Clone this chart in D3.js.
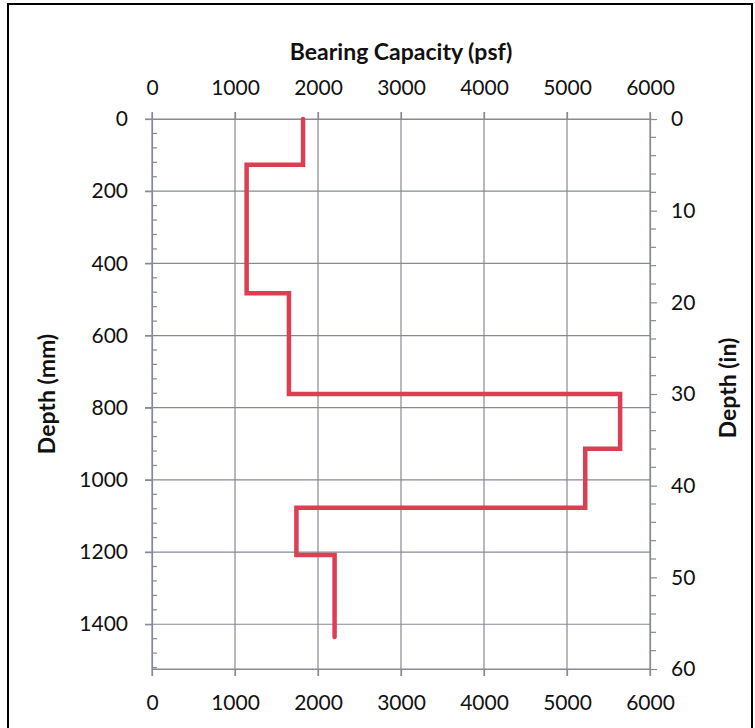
<!DOCTYPE html>
<html>
<head>
<meta charset="utf-8">
<script src="https://cdn.jsdelivr.net/npm/d3@7"></script>
<style>
  body { margin: 0; background: #fff; }
  svg text { font-family: Lato, "Open Sans", sans-serif; fill: #111; }
</style>
</head>
<body>
<svg id="chart" width="755" height="728"></svg>
<script>
// soil layers: top / bottom depth in mm and bearing capacity in psf
var layerTop = [0, 127, 483, 762, 914, 1077, 1208];
var layerBottom = [127, 483, 762, 914, 1077, 1208, 1435];
var capacityPsf = [1820, 1140, 1650, 5640, 5220, 1740, 2200];

var capTicks = [0, 1000, 2000, 3000, 4000, 5000, 6000];
var mmTicks = [0, 200, 400, 600, 800, 1000, 1200, 1400];
var inTicks = [0, 10, 20, 30, 40, 50, 60];

(function () {
    var svg = d3.select("#chart");
    var plotL = 152, plotR = 650, plotT = 119, plotB = 669;
    var gridColor = "#858a93";
    var fmt = d3.format("d");

    var x = d3.scaleLinear().domain([0, 6000]).range([plotL, plotR]);
    var yMm = d3.scaleLinear().domain([0, 1524]).range([plotT, plotB]);
    var yIn = d3.scaleLinear().domain([0, 60]).range([plotT, plotB]);

    // outer frame
    svg.append("rect")
        .attr("x", 8).attr("y", 4)
        .attr("width", 744).attr("height", 760)
        .attr("fill", "none")
        .attr("stroke", "#000")
        .attr("stroke-width", 2);

    // grid
    var grid = svg.append("g").attr("stroke", gridColor).attr("stroke-width", 1.2);
    grid.selectAll("line.v").data(capTicks).enter().append("line")
        .attr("x1", d => x(d)).attr("x2", d => x(d))
        .attr("y1", plotT - 7).attr("y2", plotB + 7);
    grid.selectAll("line.h").data(mmTicks).enter().append("line")
        .attr("x1", plotL - 7).attr("x2", plotR)
        .attr("y1", d => yMm(d)).attr("y2", d => yMm(d));
    grid.append("line")
        .attr("x1", plotL).attr("x2", plotR)
        .attr("y1", plotB).attr("y2", plotB);

    function styleAxis(g) {
        g.select(".domain").attr("stroke", gridColor).attr("stroke-width", 1.2);
        g.selectAll(".tick line").attr("stroke", gridColor).attr("stroke-width", 1.2);
        g.selectAll("text").attr("font-size", 21).attr("fill", "#111")
            .attr("font-family", "Lato, 'Open Sans', sans-serif");
    }

    svg.append("g")
        .attr("transform", "translate(0," + plotT + ")")
        .call(d3.axisTop(x).tickValues(capTicks).tickFormat(fmt).tickSize(7).tickPadding(17).tickSizeOuter(0))
        .call(styleAxis);

    svg.append("g")
        .attr("transform", "translate(0," + plotB + ")")
        .call(d3.axisBottom(x).tickValues(capTicks).tickFormat(fmt).tickSize(7).tickPadding(19).tickSizeOuter(0))
        .call(styleAxis);

    svg.append("g")
        .attr("transform", "translate(" + plotL + ",0)")
        .call(d3.axisLeft(yMm).tickValues(mmTicks).tickFormat(fmt).tickSize(7).tickPadding(17).tickSizeOuter(0))
        .call(styleAxis);

    svg.append("g")
        .attr("transform", "translate(" + plotR + ",0)")
        .call(d3.axisRight(yIn).tickValues(inTicks).tickFormat(fmt).tickSize(7).tickPadding(14).tickSizeOuter(0))
        .call(styleAxis);

    // minor ticks: every 40 mm inside the left axis, every 2 in outside the right axis
    svg.append("g").attr("stroke", gridColor).attr("stroke-width", 1.2)
        .selectAll("line").data(d3.range(40, 1524, 40).filter(d => d % 200 !== 0)).enter().append("line")
        .attr("x1", plotL).attr("x2", plotL + 5)
        .attr("y1", d => yMm(d)).attr("y2", d => yMm(d));
    svg.append("g").attr("stroke", gridColor).attr("stroke-width", 1.2)
        .selectAll("line").data(d3.range(2, 60, 2).filter(d => d % 10 !== 0)).enter().append("line")
        .attr("x1", plotR).attr("x2", plotR + 6)
        .attr("y1", d => yIn(d)).attr("y2", d => yIn(d));

    // bearing capacity profile
    var pts = [];
    capacityPsf.forEach(function (c, i) {
        pts.push([c, layerTop[i]]);
        pts.push([c, layerBottom[i]]);
    });
    var line = d3.line().x(d => x(d[0])).y(d => yMm(d[1]));
    svg.append("path")
        .datum(pts)
        .attr("d", line)
        .attr("fill", "none")
        .attr("stroke", "#de3e52")
        .attr("stroke-width", 4.5)
        .attr("stroke-linejoin", "miter")
        .attr("stroke-linecap", "round");

    // titles
    svg.append("text")
        .attr("x", (plotL + plotR) / 2).attr("y", 60)
        .attr("text-anchor", "middle")
        .attr("font-size", 23).attr("font-weight", "bold")
        .text("Bearing Capacity (psf)");

    svg.append("text")
        .attr("transform", "translate(46," + (plotT + plotB) / 2 + ") rotate(-90)")
        .attr("text-anchor", "middle").attr("dominant-baseline", "central")
        .attr("font-size", 23).attr("font-weight", "bold")
        .text("Depth (mm)");

    svg.append("text")
        .attr("transform", "translate(727," + ((plotT + plotB) / 2 - 6) + ") rotate(-90)")
        .attr("text-anchor", "middle").attr("dominant-baseline", "central")
        .attr("font-size", 23).attr("font-weight", "bold")
        .text("Depth (in)");
})();
</script>
</body>
</html>
